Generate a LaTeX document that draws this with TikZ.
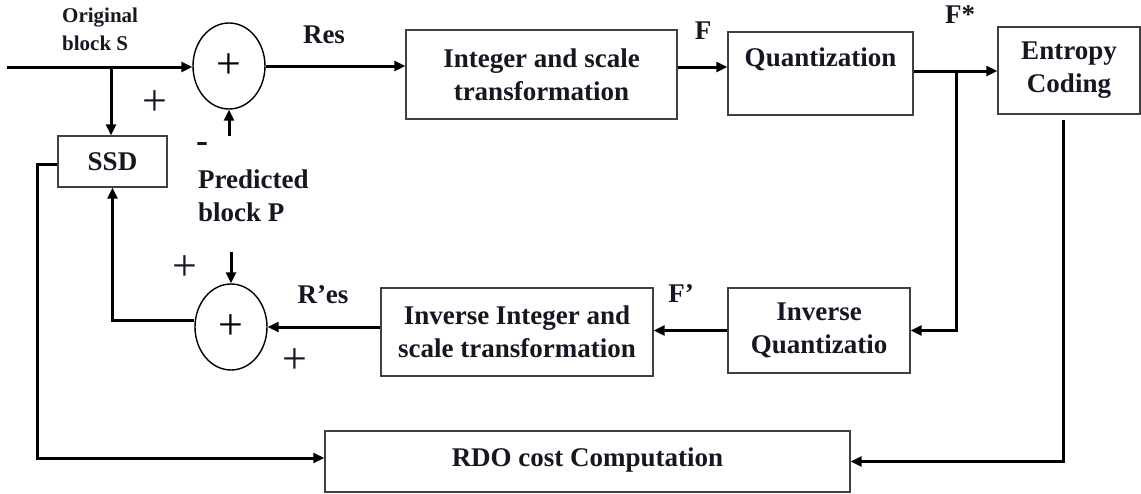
\documentclass[tikz,border=0pt]{standalone}
\usepackage{fontspec}
\setmainfont{Liberation Serif}
\usetikzlibrary{arrows.meta,shapes.geometric}
\definecolor{ink}{rgb}{0.09,0.09,0.13}
\definecolor{edge}{rgb}{0.25,0.25,0.25}
\tikzset{
  blk/.style={draw=edge, line width=1.4pt, inner sep=0pt, align=center,
    text=ink, font=\fontsize{27}{33}\selectfont\bfseries},
  summer/.style={ellipse, draw=black, line width=1.4pt, inner sep=0pt,
    minimum width=72, minimum height=86, font=\fontsize{44}{44}\selectfont},
  arr/.style={line width=3pt, -{Triangle[length=11pt,width=10pt]}},
  lbl/.style={text=ink, inner sep=0pt, font=\fontsize{27}{33}\selectfont\bfseries},
  small/.style={text=ink, inner sep=0pt, align=left, font=\fontsize{21}{28}\selectfont\bfseries},
  sign/.style={text=ink, inner sep=0pt, font=\fontsize{44}{44}\selectfont}
}
\begin{document}
\begin{tikzpicture}[x=1pt,y=-1pt]
\useasboundingbox (0,0) rectangle (1141,493);

% blocks
\node[summer] (sum1) at (229,66) {+};
\node[summer] (sum2) at (231,327) {+};
\node[blk, minimum width=109, minimum height=51] (ssd) at (112.5,161.5) {SSD};
\node[blk, minimum width=271, minimum height=89] (int) at (541.5,74.5) {Integer and scale\\transformation};
\node[blk, minimum width=185, minimum height=83] (quant) at (820.5,73.5) {Quantization\\\mbox{}};
\node[blk, minimum width=142, minimum height=87] (ent) at (1069,70.5) {Entropy\\Coding};
\node[blk, minimum width=182, minimum height=85] (invq) at (819,330.5) {Inverse\\Quantizatio};
\node[blk, minimum width=272, minimum height=88] (invint) at (517,332) {Inverse Integer and\\scale transformation};
\node[blk, minimum width=525, minimum height=61] (rdo) at (587.5,461.5) {\raisebox{8pt}{RDO cost Computation}};

% free ends of connectors
\coordinate (src) at (7,67);
\coordinate (tapS) at (111,67);
\coordinate (tapF) at (956,71);
\coordinate (predA) at (229,136);
\coordinate (predB) at (231,252);
\coordinate (entOut) at (1063,120);

% forward path
\draw[arr] (src) -- (src -| sum1.west);
\draw[arr] (tapS) -- (tapS |- ssd.north);
\draw[arr] (predA) -- (sum1.south);
\draw[arr] (sum1.east) -- (sum1.east -| int.west);
\draw[arr] (int.east |- src) -- (quant.west |- src);
\draw[arr] (quant.east |- tapF) -- (ent.west |- tapF);

% reconstruction loop
\draw[arr] (tapF) |- (invq.east);
\draw[arr] (invq.west) -- (invq.west -| invint.east);
\draw[arr] (sum2.east -| invint.west) -- (sum2.east);
\draw[arr] (predB) -- (sum2.north);
\draw[arr] ([yshift=7pt]sum2.west) -| (ssd.south);

% cost computation
\draw[arr] (ssd.west |- 0,164) -- (37,164) |- ([yshift=3.5pt]rdo.west);
\draw[arr] (entOut) |- (rdo.east);

% labels
\node[small, anchor=west] (lorig) at (62,29) {Original\\block S};
\node[lbl] (lres) at (324,35) {Res};
\node[lbl] (lf) at (703,31) {F};
\node[lbl] (lfs) at (960,15) {F*};
\node[lbl] (lfp) at (681,294) {F’};
\node[lbl] (lres2) at (323,295) {R’es};
\node[lbl, align=left, anchor=west] (lpred) at (198,196) {Predicted\\block P};
\node[lbl, font=\fontsize{36}{36}\selectfont\bfseries] (lminus) at (202,147) {-};
\node[sign] (p1) at (155,103) {+};
\node[sign] (p2) at (185,268) {+};
\node[sign] (p3) at (295,361) {+};
\end{tikzpicture}
\end{document}
